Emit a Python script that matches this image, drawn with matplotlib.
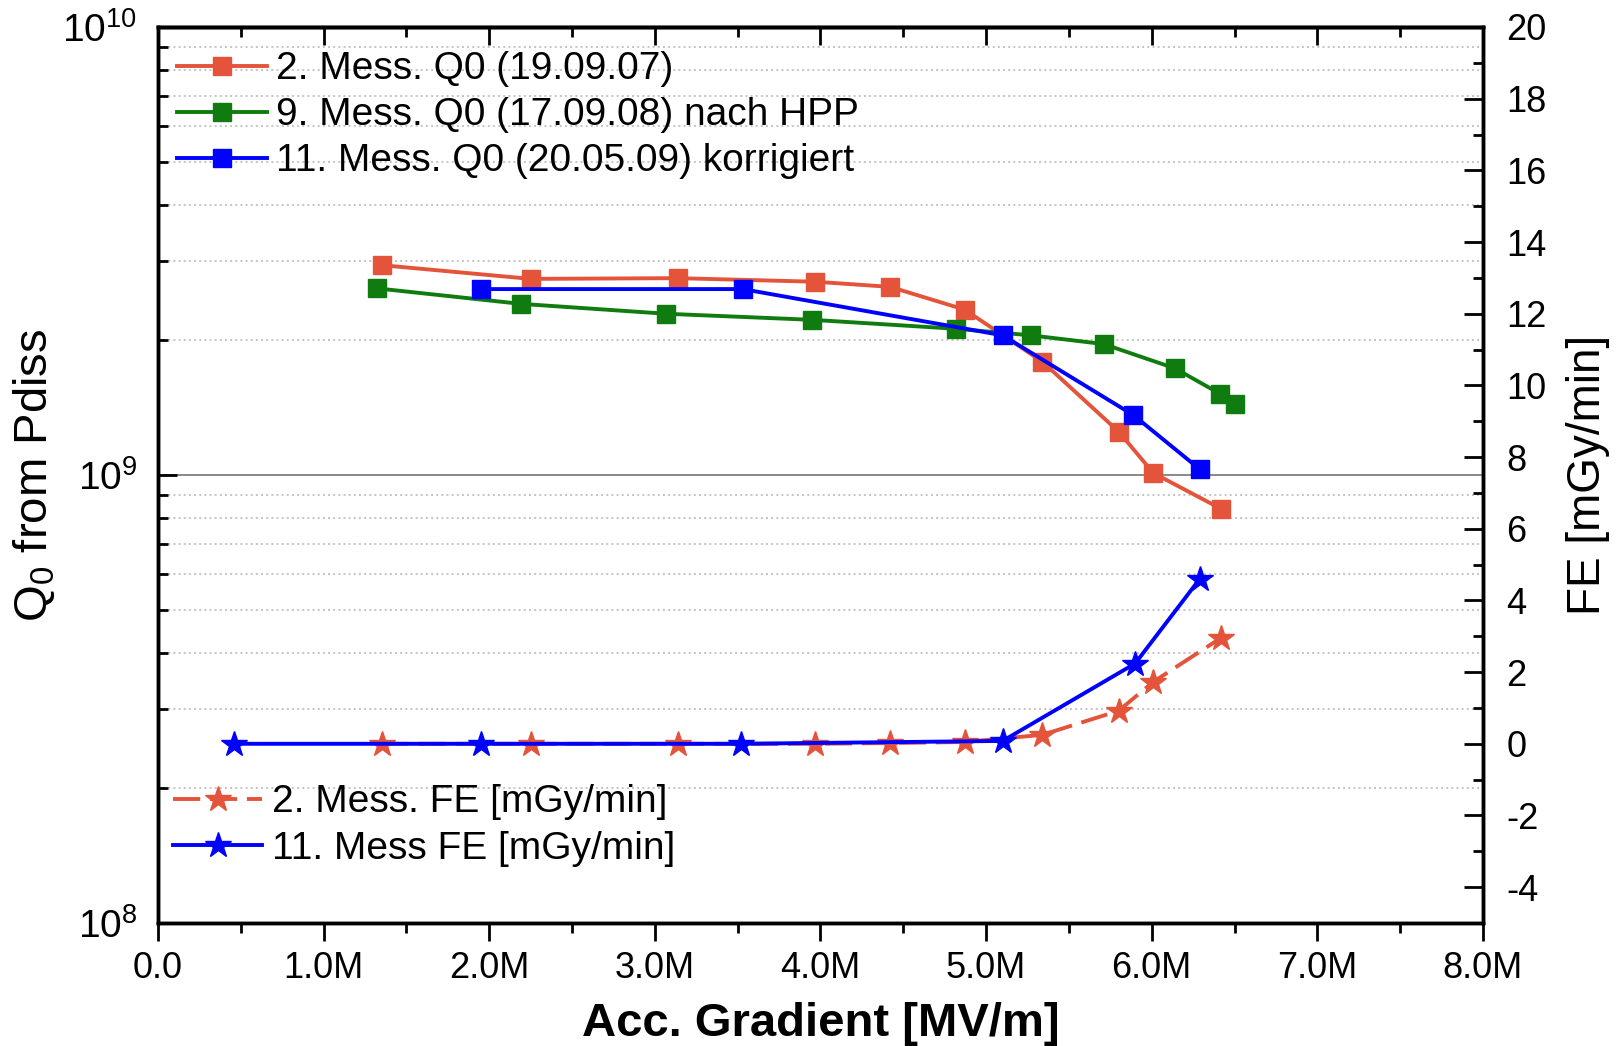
import matplotlib
matplotlib.use('Agg')
import matplotlib.pyplot as plt
from matplotlib.ticker import MultipleLocator, FuncFormatter, LogLocator, NullFormatter

plt.rcParams['font.family'] = 'Liberation Sans'
plt.rcParams['mathtext.fontset'] = 'custom'
plt.rcParams['mathtext.rm'] = 'Liberation Sans'
plt.rcParams['mathtext.it'] = 'Liberation Sans'
plt.rcParams['axes.unicode_minus'] = False

# Q0 data (x in MV/m)
x_red = [1.35, 2.25, 3.14, 3.97, 4.42, 4.87, 5.34, 5.80, 6.01, 6.42]
q_red = [2.94e9, 2.74e9, 2.75e9, 2.70e9, 2.63e9, 2.34e9, 1.79e9, 1.25e9, 1.01e9, 8.4e8]
fe_red = [0, 0, 0, 0, 0.02, 0.05, 0.25, 0.92, 1.73, 2.96]

x_green = [1.32, 2.19, 3.07, 3.95, 4.82, 5.27, 5.71, 6.14, 6.41, 6.50]
q_green = [2.61e9, 2.41e9, 2.29e9, 2.22e9, 2.12e9, 2.05e9, 1.96e9, 1.73e9, 1.52e9, 1.44e9]

x_blue_q = [1.95, 3.53, 5.10, 5.89, 6.29]
q_blue = [2.60e9, 2.60e9, 2.05e9, 1.36e9, 1.03e9]
x_blue_fe = [0.46, 1.95, 3.52, 5.10, 5.90, 6.29]
fe_blue = [0, 0, 0, 0.08, 2.24, 4.6]

c_red = '#E4543A'
c_green = '#107C10'
c_blue = '#0000FF'

fig = plt.figure(figsize=(16.17, 10.46), dpi=100)
ax = fig.add_axes([0.0977, 0.1176, 0.8194, 0.8566])
ax2 = ax.twinx()

lw = 2.8
sq = 13.5
st = 19
l1, = ax.plot(x_red, q_red, '-s', color=c_red, lw=lw, ms=sq, label='2. Mess. Q0 (19.09.07)')
l2, = ax.plot(x_green, q_green, '-s', color=c_green, lw=lw, ms=sq, label='9. Mess. Q0 (17.09.08) nach HPP')
l3, = ax.plot(x_blue_q, q_blue, '-s', color=c_blue, lw=lw, ms=sq, label='11. Mess. Q0 (20.05.09) korrigiert')

s1, = ax2.plot(x_red, fe_red, '*', ls=(0, (7, 2.5)), color=c_red, lw=lw, ms=st, label='2. Mess. FE [mGy/min]')
s2, = ax2.plot(x_blue_fe, fe_blue, '-*', color=c_blue, lw=lw, ms=st, label='11. Mess FE [mGy/min]')

ax.set_yscale('log')
ax.set_ylim(1e8, 1e10)
ax.set_xlim(0, 8)
ax2.set_ylim(-5, 20)

# grid
ax.yaxis.set_minor_locator(LogLocator(base=10, subs=range(2, 10)))
ax.yaxis.set_minor_formatter(NullFormatter())
ax.grid(which='minor', axis='y', linestyle=':', color='#C4C4C4', lw=1.4)
ax.axhline(1e9, color='#808080', lw=1.3, zorder=1)

# x axis
ax.xaxis.set_major_locator(MultipleLocator(1))
ax.xaxis.set_minor_locator(MultipleLocator(0.5))
ax.xaxis.set_major_formatter(FuncFormatter(lambda v, p: '0.0' if v == 0 else f'{v:.1f}M'))
ax.tick_params(axis='x', which='major', direction='out', length=13, width=2, labelsize=26, pad=7)
ax.tick_params(axis='x', which='minor', direction='out', length=7, width=2)

sec = ax.secondary_xaxis('top')
sec.xaxis.set_major_locator(MultipleLocator(1))
sec.xaxis.set_minor_locator(MultipleLocator(0.5))
sec.tick_params(axis='x', which='major', direction='in', length=13, width=2, labeltop=False)
sec.tick_params(axis='x', which='minor', direction='in', length=7, width=2)
sec.spines['top'].set_linewidth(2.5)

# y axes
ax.tick_params(axis='y', which='major', direction='in', length=14, width=2, labelsize=28, pad=15)
ax.tick_params(axis='y', which='minor', direction='in', length=7, width=2)
ax2.yaxis.set_major_locator(MultipleLocator(2))
ax2.yaxis.set_minor_locator(MultipleLocator(1))
ax2.tick_params(axis='y', which='major', direction='in', length=14, width=2, labelsize=26, pad=17)
ax2.tick_params(axis='y', which='minor', direction='in', length=7, width=2)

for a in (ax, ax2):
    for sp in a.spines.values():
        sp.set_linewidth(2.5)

ax.set_xlabel('Acc. Gradient [MV/m]', fontsize=34, fontweight='bold', labelpad=12)
ax.set_ylabel(r'Q$_0$ from Pdiss', fontsize=34, labelpad=4)
ax2.set_ylabel('FE [mGy/min]', fontsize=33, labelpad=14)

leg_kw = dict(loc='upper left', bbox_transform=fig.transFigure, frameon=False, fontsize=28,
              handlelength=2.3, handletextpad=0.25, borderpad=0, borderaxespad=0,
              labelspacing=0.26)
leg1 = ax2.legend(handles=[l1, l2, l3], bbox_to_anchor=(0.1095, 0.951), **leg_kw)
ax2.add_artist(leg1)
leg2 = ax2.legend(handles=[s1, s2], bbox_to_anchor=(0.107, 0.250), **leg_kw)

fig.savefig('out.png', dpi=100)
